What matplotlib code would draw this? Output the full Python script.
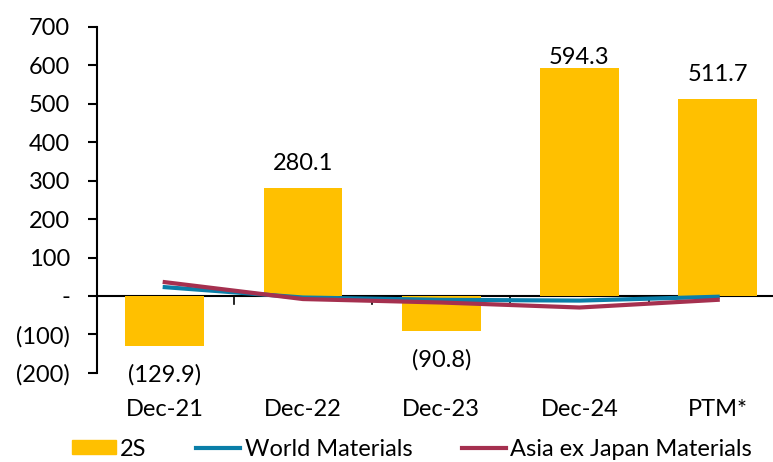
import matplotlib.pyplot as plt
import matplotlib.ticker as mticker
from matplotlib.patches import Patch
from matplotlib.lines import Line2D

plt.rcParams['font.family'] = ['Lato', 'DejaVu Sans']
FS = 17

categories = ['Dec-21', 'Dec-22', 'Dec-23', 'Dec-24', 'PTM*']
growth_2s = [-129.9, 280.1, -90.8, 594.3, 511.7]
world_materials = [23, -4, -10, -12, -2]
asia_ex_japan = [36, -8, -17, -30, -10]

bar_color = '#FFC000'
world_color = '#0A7EA8'
asia_color = '#A5304F'

fig = plt.figure(figsize=(7.73, 4.62), dpi=100)
ax = fig.add_axes([0.1255, 0.193, 0.8745, 0.7486])

x = list(range(len(categories)))
ax.bar(x, growth_2s, width=0.57, color=bar_color, zorder=2)
ax.plot(x, world_materials, color=world_color, lw=3, zorder=3)
ax.plot(x, asia_ex_japan, color=asia_color, lw=3, zorder=4)

# value labels: above positive bars (kept inside the plot top), below negative ones
for xi, v in zip(x, growth_2s):
    if v >= 0:
        ax.text(xi, min(v + 47, 604), f'{v:.1f}', ha='center', va='baseline', fontsize=FS)
    else:
        ax.text(xi, v - 92, f'({abs(v):.1f})', ha='center', va='baseline', fontsize=FS)

def fmt(val, pos):
    if val == 0:
        return '-'
    if val < 0:
        return f'({abs(val):.0f})'
    return f'{val:.0f}'

ax.set_ylim(-200, 700)
ax.set_xlim(-0.49, 4.40)
ax.yaxis.set_major_locator(mticker.MultipleLocator(100))
ax.yaxis.set_major_formatter(mticker.FuncFormatter(fmt))
ax.tick_params(axis='y', labelsize=FS, length=6.5, width=1.5, direction='out', pad=13)

# zero line acting as the category axis, with ticks between categories
ax.axhline(0, color='black', lw=1.5, zorder=1)
for b in [0.5, 1.5, 2.5, 3.5]:
    ax.plot([b, b], [0, -20], color='black', lw=1.2, zorder=1)

ax.set_xticks(x)
ax.set_xticklabels([])
for xi, c in zip(x, categories):
    ax.text(xi, -312, c, ha='center', va='baseline', fontsize=FS)

for s in ['top', 'right', 'bottom']:
    ax.spines[s].set_visible(False)
ax.spines['left'].set_linewidth(1.5)
ax.tick_params(axis='x', length=0)

handles = [Patch(color=bar_color, label='2S'),
           Line2D([], [], color=world_color, lw=3, label='World Materials'),
           Line2D([], [], color=asia_color, lw=3, label='Asia ex Japan Materials')]
fig.legend(handles=handles, loc='center left', bbox_to_anchor=(0.0931, 0.028), ncol=3,
           frameon=False, fontsize=FS, handlelength=1.85, handleheight=0.55,
           columnspacing=2.1, handletextpad=0.2, borderpad=0, borderaxespad=0)

fig.savefig('out.png', dpi=100)
